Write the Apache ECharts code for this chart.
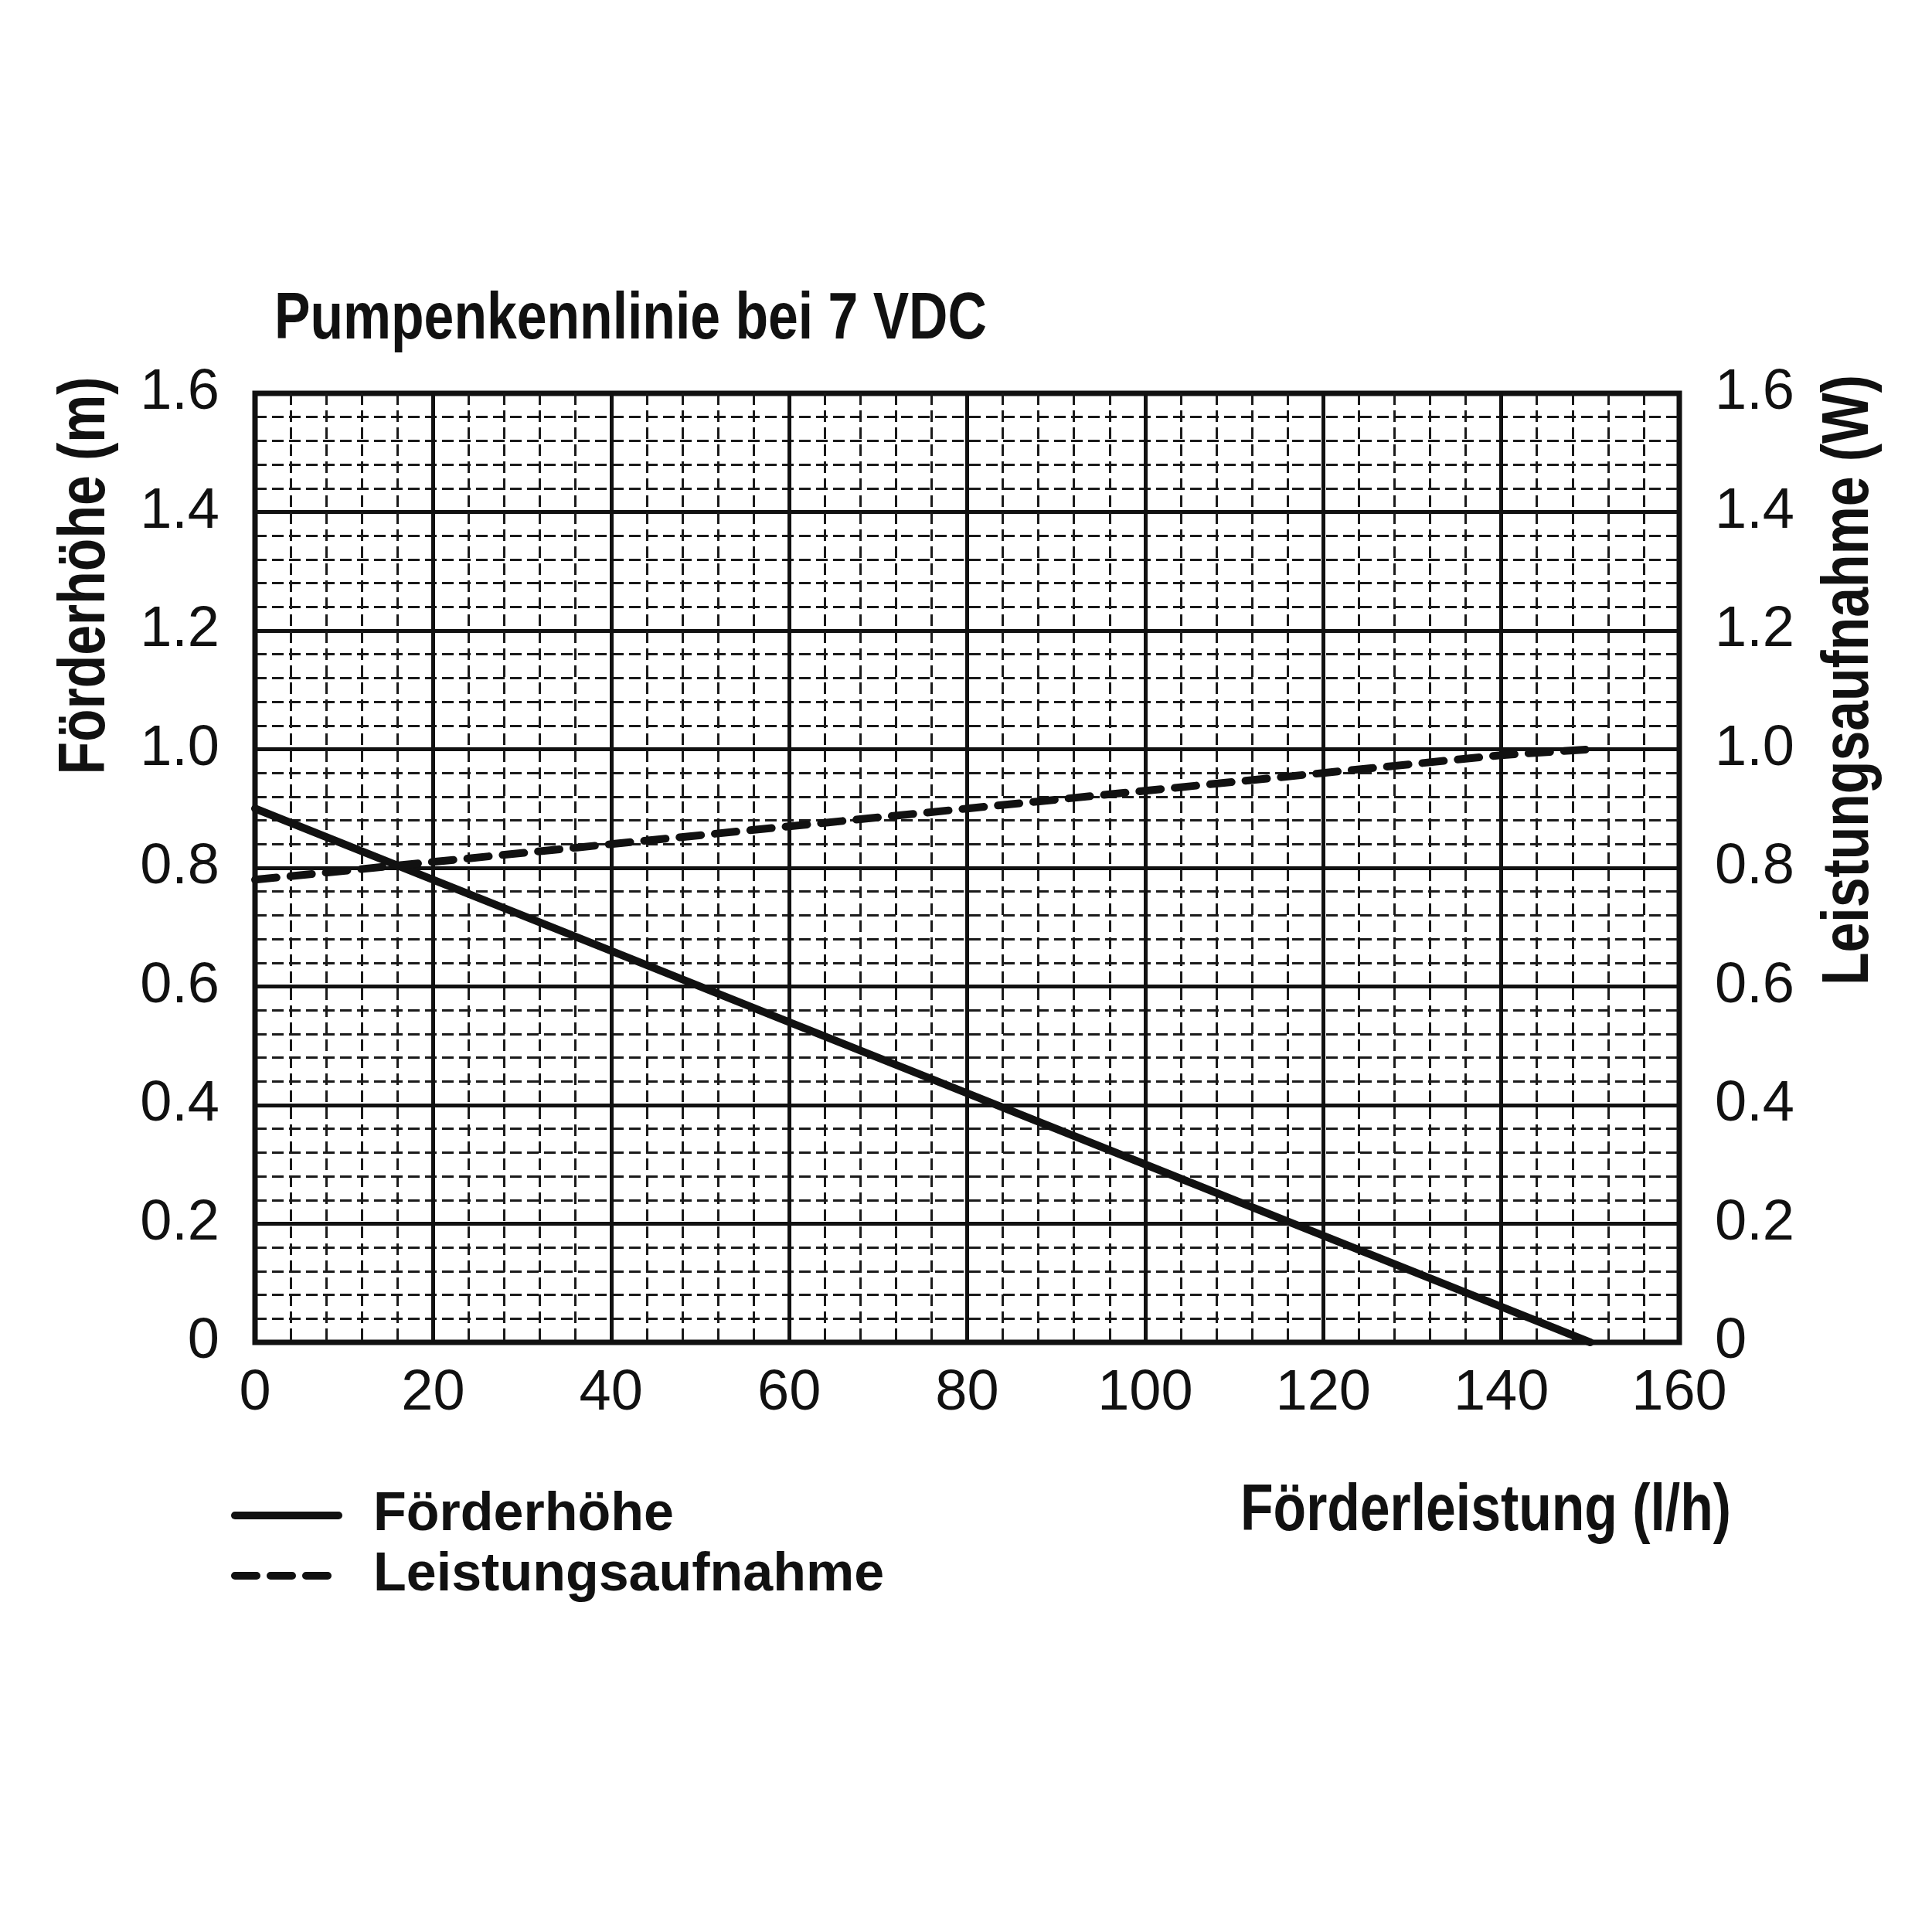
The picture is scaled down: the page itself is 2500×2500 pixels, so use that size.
<!DOCTYPE html>
<html><head><meta charset="utf-8">
<script src="https://cdn.jsdelivr.net/npm/echarts@6/dist/echarts.min.js"></script>
<style>html,body{margin:0;padding:0;background:#fff}#c{width:2500px;height:2500px}</style>
</head><body><div id="c"></div>
<script>
const chartTitle = 'Pumpenkennlinie bei 7 VDC';
const xAxisName = 'Förderleistung (l/h)';
const yLeftName = 'Förderhöhe (m)';
const yRightName = 'Leistungsaufnahme (W)';
const seriesNames = ['Förderhöhe', 'Leistungsaufnahme'];
const flow = [0, 20, 40, 60, 80, 100, 120, 140, 150];
const head = [0.90, 0.78, 0.66, 0.54, 0.42, 0.30, 0.18, 0.06, 0.00];
const power = [0.78, 0.81, 0.84, 0.87, 0.90, 0.93, 0.96, 0.99, 1.00];
const xTickLabels = ['0', '20', '40', '60', '80', '100', '120', '140', '160'];
const yTickLabels = ['0', '0.2', '0.4', '0.6', '0.8', '1.0', '1.2', '1.4', '1.6'];

const BOLD = "'Liberation Sans',Arial,sans-serif";
const REG = "'Liberation Sans',Arial,sans-serif";
const INK = '#111';
const NARROW_SCALE = 0.82;

const chart = echarts.init(document.getElementById('c'), null, {renderer: 'canvas'});
const yLabelFmt = v => yTickLabels[Math.round(v / 0.2)];
const xLabelFmt = v => xTickLabels[Math.round(v / 20)];

function boldText(text, x, y, align, rot) {
  return {
    type: 'text', x: x, y: y, rotation: rot || 0, scaleX: NARROW_SCALE, z: 10,
    style: {text: text, fontSize: 85, fontWeight: 'bold', fontFamily: BOLD, fill: INK,
            align: align, verticalAlign: 'middle'}
  };
}

function legendFor(name, top) {
  return {
    orient: 'vertical', left: 294, top: top, itemGap: 0,
    itemWidth: 134, itemHeight: 12,
    data: [name],
    selectedMode: false,
    lineStyle: {width: 'inherit'},
    itemStyle: {opacity: 0},
    textStyle: {fontSize: 70, fontWeight: 'bold', fontFamily: BOLD, color: INK,
                lineHeight: 80, padding: [0, 0, 0, 40]}
  };
}

const minorLine = {show: true, lineStyle: {color: '#1a1a1a', width: 3, type: [15, 7]}};

const option = {
  backgroundColor: '#fff',
  animation: false,
  grid: {left: 330, top: 509, width: 1843, height: 1228, show: true,
         borderColor: INK, borderWidth: 7, backgroundColor: 'transparent'},
  xAxis: {
    type: 'value', min: 0, max: 160, interval: 20,
    axisLine: {show: false}, axisTick: {show: false},
    axisLabel: {formatter: xLabelFmt, fontSize: 74, fontFamily: REG, color: INK, margin: 30},
    splitLine: {show: true, lineStyle: {color: INK, width: 5}},
    minorTick: {show: false, splitNumber: 5},
    minorSplitLine: minorLine
  },
  yAxis: [{
    type: 'value', min: 0, max: 1.6, interval: 0.2, position: 'left',
    axisLine: {show: false}, axisTick: {show: false},
    axisLabel: {formatter: yLabelFmt, fontSize: 74, fontFamily: REG, color: INK, margin: 46},
    splitLine: {show: true, lineStyle: {color: INK, width: 5}},
    minorTick: {show: false, splitNumber: 5},
    minorSplitLine: minorLine
  }, {
    type: 'value', min: 0, max: 1.6, interval: 0.2, position: 'right',
    axisLine: {show: false}, axisTick: {show: false},
    axisLabel: {formatter: yLabelFmt, fontSize: 74, fontFamily: REG, color: INK, margin: 46},
    splitLine: {show: false}
  }],
  legend: [legendFor(seriesNames[0], 1916), legendFor(seriesNames[1], 1994)],
  series: [{
    name: seriesNames[0], type: 'line', yAxisIndex: 0, symbol: 'none', z: 5,
    data: flow.map((x, i) => [x, head[i]]),
    lineStyle: {color: INK, width: 10, cap: 'round'},
    itemStyle: {color: INK}
  }, {
    name: seriesNames[1], type: 'line', yAxisIndex: 1, symbol: 'none', z: 5,
    data: flow.map((x, i) => [x, power[i]]),
    lineStyle: {color: INK, width: 10, type: [28, 18], cap: 'round'},
    itemStyle: {color: INK}
  }],
  graphic: [
    boldText(chartTitle, 355, 415, 'left'),
    boldText(yLeftName, 112, 745, 'center', Math.PI / 2),
    boldText(yRightName, 2394, 880, 'center', Math.PI / 2),
    boldText(xAxisName, 2240, 1957, 'right')
  ]
};
chart.setOption(option);
</script></body></html>
